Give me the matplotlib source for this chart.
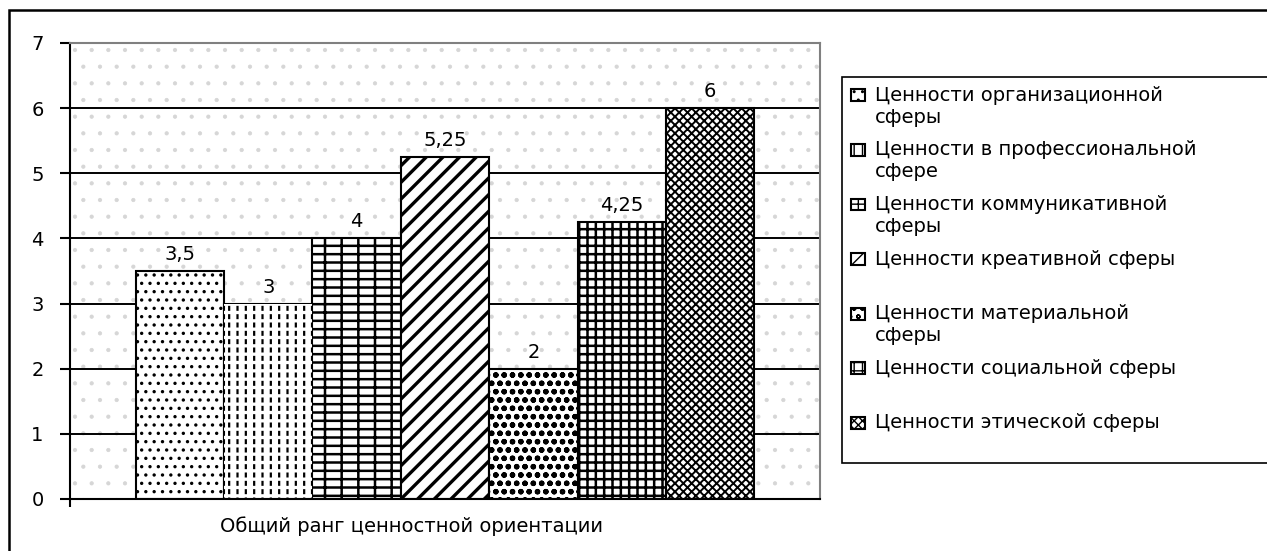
import numpy as np
import matplotlib
matplotlib.use('Agg')
import matplotlib.pyplot as plt
from matplotlib.patches import Rectangle
from matplotlib.legend_handler import HandlerPatch

plt.rcParams['font.family'] = ['DejaVu Sans']
plt.rcParams['hatch.linewidth'] = 1.6

# data
category = 'Общий ранг ценностной ориентации'
series = ['Ценности организационной\nсферы',
          'Ценности в профессиональной\nсфере',
          'Ценности коммуникативной\nсферы',
          'Ценности креативной сферы\n',
          'Ценности материальной\nсферы',
          'Ценности социальной сферы\n',
          'Ценности этической сферы\n']
values = [3.5, 3, 4, 5.25, 2, 4.25, 6]
hatches = ['..', '||', '-+', '//', 'oo', '++', 'xxxx']
hatch_lw = [1.2, 1.6, 1.8, 2.4, 1.6, 1.8, 1.4]

fs = 14


def set_hlw(p, lw):
    if hasattr(p, 'set_hatch_linewidth'):
        p.set_hatch_linewidth(lw)


fig = plt.figure(figsize=(12.67, 5.51), dpi=100)
ax = fig.add_axes([70/1267, 1 - 499/551, 750/1267, 456/551])

# dotted background of the plot area
ax.patch.set_facecolor('white')
ax.patch.set_hatch('.')
ax.patch.set_edgecolor('#d6d6d6')
ax.patch.set_linewidth(0)
set_hlw(ax.patch, 0.6)

group = 0.825
w = group / len(values)
bars = []
for i, (lab, v, h) in enumerate(zip(series, values, hatches)):
    x = 0.5 + (i - (len(values) - 1) / 2) * w
    b = ax.bar(x, v, width=w, color='white', edgecolor='black', linewidth=1.5,
               hatch=h, label=lab, zorder=2)
    set_hlw(b.patches[0], hatch_lw[i])
    if h == '||':
        # white cross strokes break the vertical lines into dashes
        o = ax.bar(x, v, width=w, fill=False, edgecolor='white', linewidth=0,
                   hatch='--', zorder=2.1)
        set_hlw(o.patches[0], 2.4)
    ax.bar_label(b, labels=[f'{v:g}'.replace('.', ',')], padding=5, fontsize=fs)
    bars.append(b)

ax.set_xlim(0, 1)
ax.set_ylim(0, 7)
ax.set_yticks(range(8))
ax.set_xticks([0])
ax.set_xticklabels([''])
ax.tick_params(axis='y', direction='out', length=7, width=1.5, pad=12, labelsize=fs)
ax.tick_params(axis='x', direction='out', length=6, width=1.5)
ax.yaxis.grid(True, color='black', linewidth=1.4)
ax.set_axisbelow(True)
for s in ['left', 'bottom']:
    ax.spines[s].set_linewidth(1.5)
for s in ['top', 'right']:
    ax.spines[s].set_color('#808080')
    ax.spines[s].set_linewidth(1.5)

ax.set_xlabel(category, fontsize=fs)
ax.xaxis.set_label_coords((412 - 70) / 750, -0.037)


# legend box next to the first line of each label
def first_line_box(legend, orig_handle, xdescent, ydescent, width, height, fontsize):
    return Rectangle((-xdescent, -ydescent + 0.6 * fontsize), width, height)


# the legend frame runs past the right edge of the picture
leg = ax.legend(handles=[b.patches[0] for b in bars], labels=series,
                loc='upper left', mode='expand',
                bbox_to_anchor=(842/1267, 0, 0.45, 1 - 77/551),
                bbox_transform=fig.transFigure, borderaxespad=0,
                fontsize=fs, frameon=True, fancybox=False, framealpha=1,
                edgecolor='black', handlelength=0.75, handleheight=0.55,
                handletextpad=0.5, labelspacing=0.7, borderpad=0.45,
                handler_map={Rectangle: HandlerPatch(patch_func=first_line_box)})
leg.get_frame().set_linewidth(1.2)
for lh in leg.legend_handles:
    set_hlw(lh, 1.0)

# outer frame of the picture
fig.add_artist(Rectangle((9/1267, -0.1), 1.2, 1.1 - 10/551, transform=fig.transFigure,
                         fill=False, edgecolor='black', linewidth=1.8))

fig.savefig('out.png', dpi=100)
